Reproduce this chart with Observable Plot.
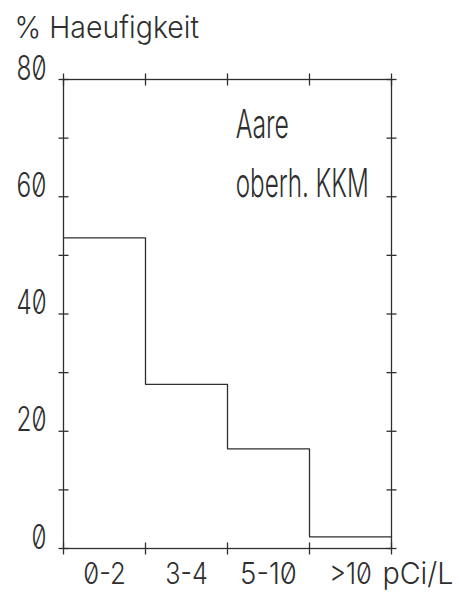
<!DOCTYPE html>
<html>
<head>
<meta charset="utf-8">
<script src="https://cdn.jsdelivr.net/npm/d3@7"></script>
<script src="https://cdn.jsdelivr.net/npm/@observablehq/plot@0.6"></script>
<style>
  body { margin: 0; background: #fff; }
  #chart svg { font-family: Inter, "DejaVu Sans", sans-serif; font-weight: 300; font-variant-numeric: slashed-zero; }
</style>
</head>
<body>
<div id="chart"></div>
<script>
// ---- data ----
const categories = ["0-2", "3-4", "5-10", ">10"];
const values = [53, 28, 17, 2];
const unitLabel = "pCi/L";
const yTitle = "% Haeufigkeit";
const yTickLabels = [0, 20, 40, 60, 80];
const yTickMarks = [0, 10, 20, 30, 40, 50, 60, 70, 80];
const notes = ["Aare", "oberh. KKM"];

// ---- derived tables ----
const n = categories.length;
const steps = values.map((v, i) => ({x: i, y: v})).concat([{x: n, y: values[n - 1]}]);
const boundaries = d3.range(0, n + 1);
const yTickPts = yTickMarks.flatMap(v => [{x: 0, y: v}, {x: n, y: v}]);
const xTickPts = boundaries.flatMap(b => [{x: b, y: 0}, {x: b, y: 80}]);

const hTick = {draw(ctx, size) { const r = Math.sqrt(size / Math.PI); ctx.moveTo(-r, 0); ctx.lineTo(r, 0); }};
const vTick = {draw(ctx, size) { const r = Math.sqrt(size / Math.PI); ctx.moveTo(0, -r); ctx.lineTo(0, r); }};

const ink = "#2e2e2e";

const chart = Plot.plot({
  width: 459,
  height: 599,
  marginLeft: 63,
  marginRight: 68,
  marginTop: 79,
  marginBottom: 51,
  x: {domain: [0, n], axis: null},
  y: {domain: [0, 80], axis: null},
  marks: [
    Plot.frame({stroke: ink, strokeWidth: 1.3}),
    Plot.line(steps, {x: "x", y: "y", curve: "step-after", stroke: ink, strokeWidth: 1.3}),
    Plot.dot(yTickPts, {x: "x", y: "y", symbol: hTick, r: 5, stroke: ink, strokeWidth: 1.3, fill: "none"}),
    Plot.dot(xTickPts, {x: "x", y: "y", symbol: vTick, r: 6, stroke: ink, strokeWidth: 1.3, fill: "none"}),
    Plot.text(yTickLabels, {y: d => d, text: d => String(d), frameAnchor: "left", textAnchor: "end", lineAnchor: "bottom", dx: -17, dy: 0, fontSize: 34, fill: ink, className: "p15"}),
    Plot.text(categories, {x: (d, i) => i + 0.5, text: d => d, frameAnchor: "bottom", lineAnchor: "bottom", dy: 35, fontSize: 30, fill: ink, className: "p14"}),
    Plot.text([unitLabel], {x: () => n, text: d => d, frameAnchor: "bottom", textAnchor: "start", lineAnchor: "bottom", dx: -9, dy: 35, fontSize: 30, fill: ink, className: "p14"}),
    Plot.text([notes[0]], {x: () => 2.1, y: () => 70, text: d => d, textAnchor: "start", lineAnchor: "bottom", fontSize: 40, fill: ink, className: "p13"}),
    Plot.text([notes[1]], {x: () => 2.1, y: () => 60, text: d => d, textAnchor: "start", lineAnchor: "bottom", fontSize: 40, fill: ink, className: "p13"}),
    Plot.text([yTitle], {frameAnchor: "top-left", text: d => d, textAnchor: "start", lineAnchor: "bottom", dx: -49, dy: -42, fontSize: 30, fill: ink, className: "p14"})
  ]
});
document.getElementById("chart").appendChild(chart);

// fixed-pitch plotter lettering: squeeze each label horizontally to a set character pitch
const pitch = {p15: 15, p14: 14.2, p13: 13.3};
for (const [cls, p] of Object.entries(pitch)) {
  chart.querySelectorAll(`g.${cls} text`).forEach(t => {
    const len = t.getComputedTextLength();
    const f = Math.min(1, (t.textContent.length * p) / len);
    const x = +t.getAttribute("x") || 0, y = +t.getAttribute("y") || 0;
    const tr = t.getAttribute("transform") || "";
    t.setAttribute("transform", `${tr} translate(${x},${y}) scale(${f.toFixed(3)},1) translate(${-x},${-y})`);
  });
}
</script>
</body>
</html>
